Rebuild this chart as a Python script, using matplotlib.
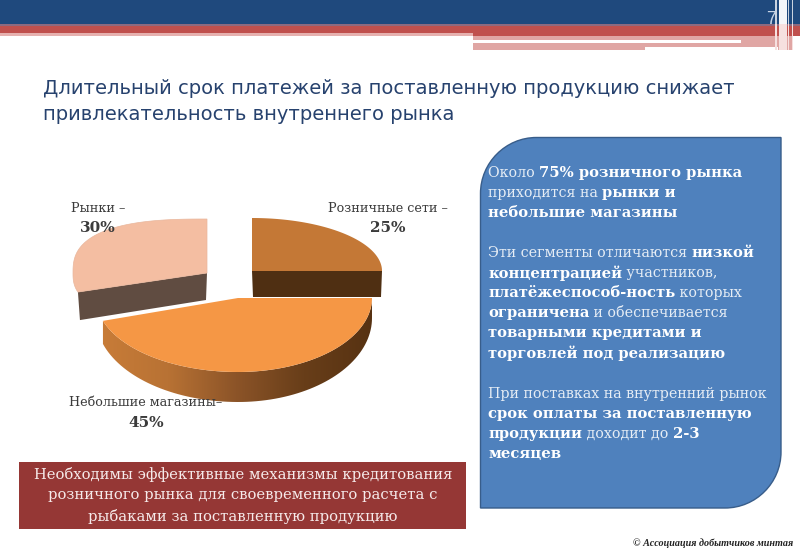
import numpy as np
import matplotlib
matplotlib.use('Agg')
import matplotlib.pyplot as plt
from matplotlib.patches import Polygon, PathPatch, Rectangle
from matplotlib.path import Path
from matplotlib.colors import LinearSegmentedColormap

# chart data
categories = ['Розничные сети –', 'Небольшие магазины–', 'Рынки –']
shares = [25, 45, 30]
share_labels = ['25%', '45%', '30%']

title_lines = ['Длительный срок платежей за поставленную продукцию снижает',
               'привлекательность внутреннего рынка']
red_lines = ['Необходимы эффективные механизмы кредитования',
             'розничного рынка для своевременного расчета с',
             'рыбаками за поставленную продукцию']
# (text, bold) runs for each line of the blue box, None is an empty line
blue_lines = [
    [('Около ', False), ('75% розничного рынка', True)],
    [('приходится на ', False), ('рынки и', True)],
    [('небольшие магазины', True)],
    None,
    [('Эти сегменты отличаются ', False), ('низкой', True)],
    [('концентрацией', True), (' участников,', False)],
    [('платёжеспособ-ность', True), (' которых', False)],
    [('ограничена', True), (' и обеспечивается', False)],
    [('товарными кредитами и', True)],
    [('торговлей под реализацию', True)],
    None,
    [('При поставках на внутренний рынок', False)],
    [('срок оплаты за поставленную', True)],
    [('продукции', True), (' доходит до ', False), ('2-3', True)],
    [('месяцев', True)],
]
page_number = '7'
footer = '© Ассоциация добытчиков минтая'

SERIF = 'DejaVu Serif'

fig = plt.figure(figsize=(8, 5.54), dpi=100)
ax = fig.add_axes([0, 0, 1, 1])
ax.set_xlim(0, 800)
ax.set_ylim(554, 0)
ax.set_axis_off()


def rect(x0, y0, x1, y1, col, z=1):
    ax.add_patch(Rectangle((x0, y0), x1 - x0, y1 - y0, fc=col, ec='none', zorder=z))


# header stripes
rect(0, 0, 800, 24, '#1f497d')
rect(0, 24, 800, 26, '#8d6a80')
rect(0, 26, 800, 33, '#c0504d')
rect(0, 33, 473, 36, '#e6b1af')
rect(473, 33, 800, 36, '#c0504d')
rect(473, 36, 778, 47, '#e0a6a4')
rect(473, 40, 741, 43, 'white')
rect(473, 47, 645, 50, '#e0a6a4')
rect(778, 36, 800, 50, '#e0a6a4')
rect(793, 36, 800, 50, 'white')
for x0, x1, col in [(775, 777, '#c9d3e0'), (779, 787, '#f4f6f9'), (788, 789, '#c9d3e0'), (792, 793, '#c9d3e0')]:
    rect(x0, 0, x1, 24, col, 2)
    rect(x0, 24, x1, 50, '#f6e0df', 2)
ax.text(771, 20, page_number, color='#c6d4e6', fontsize=13, family='Liberation Sans', ha='center', va='center', zorder=3)

for i, line in enumerate(title_lines):
    ax.text(43, 88 + i * 27, line, color='#27426e', fontsize=14.03, family='DejaVu Sans', va='center')


# pie, one wedge at a time; angles are clockwise from 12 o'clock
def arc(c, rxl, rxr, ryb, ryf, a0, a1, p=1.0, n=80):
    t = np.radians(np.linspace(a0, a1, n))
    s, k = np.sin(t), np.cos(t)
    x = c[0] + np.sign(s) * np.abs(s) ** p * np.where(s > 0, rxr, rxl)
    y = c[1] - np.sign(k) * np.abs(k) ** p * np.where(k > 0, ryb, ryf)
    return np.column_stack([x, y])


angles = np.cumsum([0] + shares) * 3.6

# markets wedge
c = (207, 273)
top = arc(c, 134, 134, 54, 46, angles[2], angles[3], p=0.75)
d = np.array([2, 28])
end = top[0]
ax.add_patch(Polygon([end, c, c + np.array([-1, 27]), end + d], fc='#604c41', ec='none', zorder=5))
ax.add_patch(Polygon(np.vstack([[c], top]), fc='#f4bea2', ec='#e9b79d', lw=0.5, zorder=6))

# retail wedge
c = (252, 271)
top = arc(c, 130, 130, 53, 53, angles[0], angles[1])
end = top[-1]
ax.add_patch(Polygon([c, end, end + np.array([-1, 26]), (c[0] + 1, c[1] + 26)], fc='#4f2f12', ec='none', zorder=5))
ax.add_patch(Polygon(np.vstack([[c], top]), fc='#c47836', ec='none', zorder=6))

# small shops wedge, side wall has a horizontal gradient and grows towards the viewer
c = (238, 298)
top = arc(c, 142, 134, 53, 74, angles[1], angles[2])
t = np.radians(np.linspace(angles[1], angles[2], len(top)))
depth = 20 + 10 * np.clip(-np.cos(t), 0, 1)
low = top + np.column_stack([np.zeros(len(top)), depth])
side = np.vstack([top, low[::-1]])
side_path = Path(np.vstack([side, side[0]]), closed=True)
cm = LinearSegmentedColormap.from_list('side', ['#c87c38', '#b87234', '#8c5428', '#683e19', '#573212'])
grad = np.linspace(0, 1, 256).reshape(1, -1)
im = ax.imshow(grad, cmap=cm, extent=(100, 372, 402, 298), aspect='auto', zorder=7)
im.set_clip_path(PathPatch(side_path, transform=ax.transData))
ax.set_xlim(0, 800)
ax.set_ylim(554, 0)
ax.add_patch(Polygon(np.vstack([[c], top]), fc='#f59745', ec='none', zorder=8))

# pie labels
label_pos = [(388, 208), (146, 403), (98, 208)]
for name, val, (x, y) in zip(categories, share_labels, label_pos):
    ax.text(x, y, name, color='#3b3b3b', fontsize=9.15, family=SERIF, ha='center', va='center', zorder=9)
    ax.text(x, y + 20, val, color='#3b3b3b', fontsize=11, family=SERIF, weight='bold', ha='center', va='center', zorder=9)

# blue box with two rounded corners
x0, y0, x1, y1 = 480.5, 137.5, 781, 508
r = 56
kr = r * 0.45
verts = [(x0, y1), (x0, y0 + r), (x0, y0 + kr), (x0 + kr, y0), (x0 + r, y0), (x1, y0), (x1, y1 - r),
         (x1, y1 - kr), (x1 - kr, y1), (x1 - r, y1), (x0, y1), (x0, y1)]
codes = [Path.MOVETO, Path.LINETO, Path.CURVE4, Path.CURVE4, Path.CURVE4, Path.LINETO, Path.LINETO,
         Path.CURVE4, Path.CURVE4, Path.CURVE4, Path.LINETO, Path.CLOSEPOLY]
ax.add_patch(PathPatch(Path(verts, codes), fc='#4f81bd', ec='#385d8a', lw=1, zorder=2))

renderer = fig.canvas.get_renderer()
y = 173
for line in blue_lines:
    if line is not None:
        x = 488
        for txt, bold in line:
            t = ax.text(x, y, txt.replace(' ', '\u00a0'), color='white' if bold else '#e6edf5',
                        fontsize=10.6 if bold else 10.25, family=SERIF,
                        weight='bold' if bold else 'normal', va='center', zorder=4)
            x += t.get_window_extent(renderer).width
    y += 20.05

# red box
rect(19, 462, 466, 529, '#953735')
for i, line in enumerate(red_lines):
    ax.text(243, 475 + i * 20.5, line, color='#f6eaea', fontsize=10.6, family=SERIF, ha='center', va='center', zorder=4)

ax.text(793, 543, footer, color='#222222', fontsize=7.3, family='Liberation Serif', style='italic', weight='bold', ha='right', va='center')

fig.savefig('out.png', dpi=100)
